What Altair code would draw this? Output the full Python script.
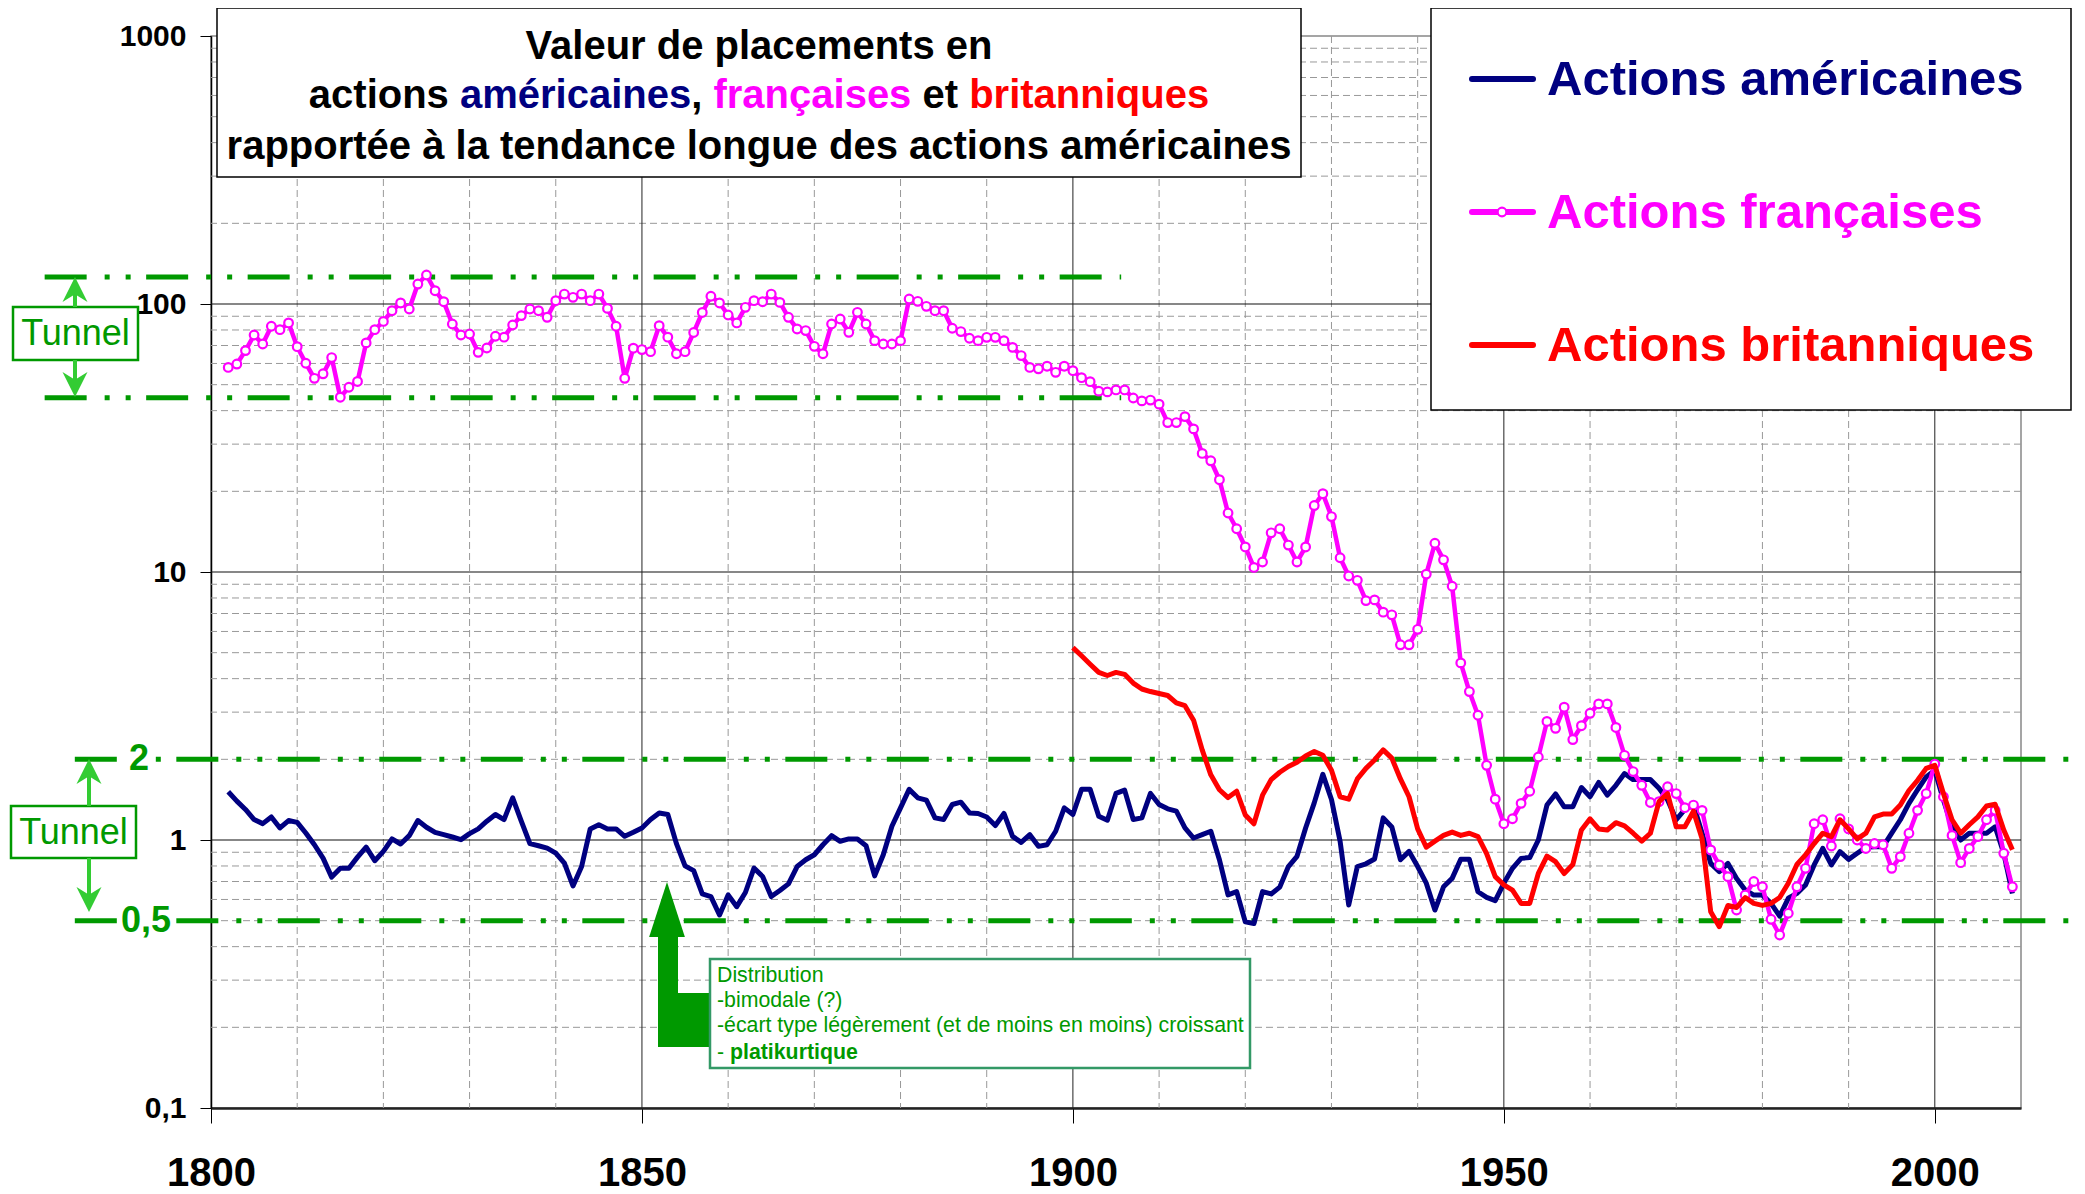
import altair as alt
import pandas as pd

FONT = "Liberation Sans"

# ---------------- data ----------------
YEARS_US = list(range(1802, 2010))
US = [
    1.513, 1.396, 1.30, 1.192, 1.151, 1.219, 1.109, 1.182, 1.164, 1.062,
    0.960, 0.856, 0.727, 0.785, 0.785, 0.863, 0.941, 0.837, 0.907, 1.009,
    0.966, 1.038, 1.182, 1.116, 1.068, 1.047, 1.026, 1.003, 1.056, 1.100,
    1.175, 1.245, 1.192, 1.437, 1.175, 0.969, 0.952, 0.933, 0.894, 0.820,
    0.674, 0.796, 1.100, 1.141, 1.100, 1.100, 1.032, 1.068, 1.109, 1.192,
    1.262, 1.245, 0.969, 0.801, 0.769, 0.629, 0.615, 0.525, 0.624, 0.564,
    0.637, 0.785, 0.731, 0.615, 0.648, 0.686, 0.796, 0.844, 0.881, 0.960,
    1.038, 0.989, 1.009, 1.009, 0.952, 0.735, 0.881, 1.125, 1.318, 1.545,
    1.437, 1.409, 1.209, 1.192, 1.357, 1.384, 1.262, 1.256, 1.219, 1.132,
    1.256, 1.032, 0.980, 1.047, 0.947, 0.960, 1.078, 1.318, 1.245, 1.545,
    1.545, 1.227, 1.185, 1.492, 1.535, 1.192, 1.209, 1.492, 1.357, 1.307,
    1.281, 1.109, 1.017, 1.047, 1.078, 0.844, 0.624, 0.642, 0.495, 0.488,
    0.642, 0.629, 0.667, 0.796, 0.869, 1.109, 1.376, 1.758, 1.416, 0.989,
    0.572, 0.796, 0.815, 0.849, 1.209, 1.119, 0.844, 0.907, 0.796, 0.690,
    0.548, 0.669, 0.719, 0.847, 0.847, 0.641, 0.611, 0.594, 0.689, 0.784,
    0.854, 0.860, 1.000, 1.350, 1.485, 1.330, 1.330, 1.570, 1.450, 1.640,
    1.470, 1.600, 1.770, 1.680, 1.680, 1.680, 1.560, 1.410, 1.190, 1.300,
    1.350, 1.060, 0.818, 0.762, 0.818, 0.719, 0.651, 0.623, 0.623, 0.580,
    0.520, 0.606, 0.632, 0.679, 0.807, 0.931, 0.807, 0.905, 0.847, 0.892,
    0.939, 0.944, 0.944, 1.060, 1.190, 1.370, 1.540, 1.720, 1.820, 1.410,
    1.120, 1.000, 1.060, 1.060, 1.060, 1.120, 0.892, 0.632,
]

YEARS_FR = list(range(1802, 2010))
FR = [
    58.0, 59.7, 67.0, 76.6, 70.9, 82.6, 80.2, 85.0, 69.3, 60.1,
    52.8, 54.9, 63.1, 44.9, 48.9, 51.4, 71.6, 80.2, 86.1, 94.4,
    100.9, 95.8, 118.7, 128.3, 112.1, 102.0, 84.2, 76.6, 77.3, 66.0,
    68.5, 75.8, 75.2, 83.5, 90.5, 95.8, 94.4, 89.2, 102.9, 108.9,
    105.9, 108.9, 102.9, 108.9, 96.3, 82.6, 52.8, 68.4, 67.6, 66.4,
    83.0, 75.2, 65.2, 66.4, 78.3, 93.0, 106.9, 100.9, 91.0, 85.0,
    97.2, 102.9, 102.0, 108.9, 101.4, 89.2, 80.7, 79.6, 69.5, 65.2,
    84.2, 87.9, 78.4, 93.1, 84.2, 73.0, 70.9, 70.9, 73.0, 104.4,
    102.3, 98.0, 94.4, 94.4, 81.2, 78.9, 74.5, 73.0, 75.1, 75.1,
    73.0, 68.9, 64.2, 58.0, 57.3, 58.6, 55.6, 58.6, 56.4, 53.1,
    51.3, 47.3, 47.0, 47.8, 47.8, 44.6, 43.5, 43.8, 42.3, 36.1,
    36.1, 38.0, 34.2, 27.7, 26.0, 22.1, 16.6, 14.5, 12.4, 10.4,
    10.9, 14.0, 14.5, 12.6, 10.9, 12.4, 17.7, 19.6, 16.1, 11.3,
    9.66, 9.31, 7.82, 7.87, 7.08, 6.92, 5.35, 5.35, 6.11, 9.82,
    12.8, 11.1, 8.85, 4.58, 3.58, 2.92, 1.90, 1.42, 1.15, 1.20,
    1.37, 1.52, 2.04, 2.77, 2.61, 3.13, 2.37, 2.67, 2.97, 3.22,
    3.22, 2.63, 2.07, 1.80, 1.60, 1.38, 1.39, 1.58, 1.49, 1.32,
    1.35, 1.29, 0.918, 0.807, 0.730, 0.548, 0.623, 0.700, 0.669, 0.506,
    0.442, 0.533, 0.669, 0.784, 1.15, 1.19, 0.95, 1.20, 1.10, 1.00,
    0.93, 0.97, 0.96, 0.784, 0.867, 1.06, 1.29, 1.49, 1.92, 1.45,
    1.04, 0.823, 0.93, 1.03, 1.19, 1.29, 0.892, 0.669,
]

YEARS_UK = list(range(1900, 2010))
UK = [
    5.22, 4.87, 4.53, 4.22, 4.11, 4.22, 4.15, 3.85, 3.66, 3.58,
    3.52, 3.46, 3.25, 3.17, 2.80, 2.17, 1.75, 1.54, 1.44, 1.52,
    1.24, 1.15, 1.47, 1.68, 1.79, 1.88, 1.95, 2.06, 2.14, 2.07,
    1.82, 1.45, 1.42, 1.69, 1.85, 1.99, 2.17, 2.02, 1.69, 1.45,
    1.10, 0.94, 0.99, 1.04, 1.07, 1.04, 1.06, 1.03, 0.89, 0.73,
    0.68, 0.65, 0.58, 0.58, 0.75, 0.87, 0.83, 0.75, 0.81, 1.09,
    1.20, 1.10, 1.09, 1.16, 1.13, 1.06, 0.99, 1.06, 1.39, 1.49,
    1.12, 1.12, 1.28, 1.01, 0.54, 0.475, 0.57, 0.56, 0.61, 0.58,
    0.57, 0.58, 0.61, 0.69, 0.81, 0.88, 0.97, 1.06, 1.03, 1.19,
    1.10, 1.01, 1.06, 1.22, 1.25, 1.25, 1.35, 1.53, 1.67, 1.85,
    1.90, 1.49, 1.19, 1.06, 1.14, 1.22, 1.34, 1.36, 1.09, 0.92,
]

X_TICKS = [1800, 1850, 1900, 1950, 2000]
Y_TICKS = [0.1, 1, 10, 100, 1000]
X_MINOR = [y for y in range(1810, 2010, 10) if y % 50]
X_MAJOR = [1850, 1900, 1950, 2000]
Y_MINOR = [round(d * m, 4) for d in (0.1, 1, 10, 100) for m in range(2, 10)]
Y_MAJOR = [1, 10, 100]
TUNNEL_HIGH = [126, 44.7]
TUNNEL_LOW = [2, 0.5]

NAVY, MAGENTA, RED = "#000080", "#FF00FF", "#FF0000"
GREEN, LIGHT_GREEN = "#009900", "#33CC33"

W, H = 1810, 1072
xs = alt.Scale(domain=[1800, 2010], nice=False, zero=False)
ys = alt.Scale(type="log", domain=[0.1, 1000], nice=False)

xaxis = alt.Axis(values=X_TICKS, format="d", grid=False, title=None,
                 labelFont=FONT, labelFontSize=40, labelFontWeight="bold",
                 labelColor="black", tickSize=15, tickColor="black",
                 labelBaseline="alphabetic", labelPadding=62,
                 domainColor="#222222", domainWidth=2.5,
                 labelFlush=False, labelOverlap=False)
yaxis = alt.Axis(values=Y_TICKS, grid=False, title=None,
                 labelExpr="datum.value < 1 ? '0,1' : format(datum.value, 'd')",
                 labelFont=FONT, labelFontSize=30, labelFontWeight="bold",
                 labelColor="black", tickSize=11, tickColor="black",
                 labelPadding=14, domainColor="black", domainWidth=1.5,
                 labelOverlap=False)


def X(f):
    return alt.X(f, type="quantitative", scale=xs, axis=xaxis)


def Y(f):
    return alt.Y(f, type="quantitative", scale=ys, axis=yaxis)


ONE = pd.DataFrame({"k": [0]})


def txt(s, x, y, size, color, bold=False, align="center"):
    return alt.Chart(ONE).mark_text(
        text=s, font=FONT, fontSize=size,
        fontWeight="bold" if bold else "normal", color=color,
        align=align, baseline="middle").encode(x=alt.value(x), y=alt.value(y))


def box(x0, y0, x1, y1, stroke, sw, fill="white"):
    return alt.Chart(ONE).mark_rect(fill=fill, stroke=stroke, strokeWidth=sw).encode(
        x=alt.value(x0), x2=alt.value(x1), y=alt.value(y0), y2=alt.value(y1))


def seg(x0, y0, x1, y1, color, w, cap="butt"):
    return alt.Chart(ONE).mark_rule(color=color, strokeWidth=w, strokeCap=cap).encode(
        x=alt.value(x0), x2=alt.value(x1), y=alt.value(y0), y2=alt.value(y1))


ARROW = "M0,-1 L0.8,0.6 L0,0.1 L-0.8,0.6 Z"
TRI = "M0,-1 L0.65,1 L-0.65,1 Z"


def head(x, y, size, color, angle=0, shape=ARROW):
    return alt.Chart(ONE).mark_point(shape=shape, filled=True, size=size, color=color,
                                     opacity=1, angle=angle, strokeWidth=0).encode(
        x=alt.value(x), y=alt.value(y))


layers = []

# ---------------- grid ----------------
layers.append(alt.Chart(pd.DataFrame({"v": Y_MINOR})).mark_rule(
    color="#999999", strokeWidth=1, strokeDash=[7, 4]).encode(y=Y("v")))
layers.append(alt.Chart(pd.DataFrame({"v": X_MINOR})).mark_rule(
    color="#999999", strokeWidth=1, strokeDash=[7, 4]).encode(x=X("v")))
layers.append(alt.Chart(pd.DataFrame({"v": Y_MAJOR})).mark_rule(
    color="#111111", strokeWidth=1.2).encode(y=Y("v")))
layers.append(alt.Chart(pd.DataFrame({"v": X_MAJOR})).mark_rule(
    color="#222222", strokeWidth=1).encode(x=X("v")))

# ---------------- tunnels ----------------
DASH = [42, 18, 5, 16, 5, 15.5]
layers.append(alt.Chart(pd.DataFrame({"v": TUNNEL_HIGH, "a": [1780.7] * 2, "b": [1905.6] * 2}))
              .mark_rule(color=GREEN, strokeWidth=5, strokeDash=DASH)
              .encode(x=X("a"), x2="b:Q", y=Y("v")))
layers.append(alt.Chart(pd.DataFrame({"v": TUNNEL_LOW, "a": [1784.2] * 2, "b": [2018.0] * 2}))
              .mark_rule(color=GREEN, strokeWidth=5, strokeDash=DASH)
              .encode(x=X("a"), x2="b:Q", y=Y("v")))

# labels on low tunnel lines
for val, lab, cx, a, b in [(2, "2", -72, -84, -61), (0.5, "0,5", -65, -93, -36)]:
    d = pd.DataFrame({"v": [val]})
    layers.append(alt.Chart(d).mark_rule(color="white", strokeWidth=14).encode(
        x=alt.value(a), x2=alt.value(b), y=Y("v")))
    layers.append(alt.Chart(d).mark_text(text=lab, font=FONT, fontSize=36, fontWeight="bold",
                                          color=GREEN, align="center", baseline="middle")
                  .encode(x=alt.value(cx), y=Y("v")))

# tunnel boxes + arrows
layers += [
    box(-198, 271, -73, 324, GREEN, 2.5),
    txt("Tunnel", -135.5, 298, 36, GREEN),
    seg(-136, 271, -136, 252, LIGHT_GREEN, 4),
    head(-136, 256.6, 977, LIGHT_GREEN),
    seg(-136, 324, -136, 352, LIGHT_GREEN, 4),
    head(-136, 345.4, 977, LIGHT_GREEN, angle=180),
    box(-200, 770, -75, 822, GREEN, 2.5),
    txt("Tunnel", -137.5, 797, 36, GREEN),
    seg(-122, 770, -122, 732, LIGHT_GREEN, 4),
    head(-122, 738.6, 977, LIGHT_GREEN),
    seg(-122, 822, -122, 866, LIGHT_GREEN, 4),
    head(-122, 860.4, 977, LIGHT_GREEN, angle=180),
]

# ---------------- series ----------------
df_us = pd.DataFrame({"year": YEARS_US, "value": US})
df_fr = pd.DataFrame({"year": YEARS_FR, "value": FR})
df_uk = pd.DataFrame({"year": YEARS_UK, "value": UK})

layers.append(alt.Chart(df_us).mark_line(color=NAVY, strokeWidth=5, strokeJoin="round")
              .encode(x=X("year"), y=Y("value")))
layers.append(alt.Chart(df_fr).mark_line(color=MAGENTA, strokeWidth=4.5, strokeJoin="round")
              .encode(x=X("year"), y=Y("value")))
layers.append(alt.Chart(df_fr).mark_point(shape="circle", filled=True, fill="white",
                                          stroke=MAGENTA, strokeWidth=2.2, size=75, opacity=1)
              .encode(x=X("year"), y=Y("value")))
layers.append(alt.Chart(df_uk).mark_line(color=RED, strokeWidth=5, strokeJoin="round")
              .encode(x=X("year"), y=Y("value")))

# ---------------- annotation (distribution) ----------------
ANN_FS = 21.3
layers += [
    box(447, 901, 467, 1011, GREEN, 0, fill=GREEN),
    box(447, 957, 501, 1011, GREEN, 0, fill=GREEN),
    head(456, 873.5, 3025, GREEN, shape=TRI),
    box(499, 923, 1039, 1032, "#339966", 2.5),
    txt("Distribution", 506, 940, ANN_FS, GREEN, align="left"),
    txt("-bimodale (?)", 506, 965, ANN_FS, GREEN, align="left"),
    txt("-écart type légèrement (et de moins en moins) croissant", 506, 990, ANN_FS, GREEN, align="left"),
    txt("-", 506, 1017, ANN_FS, GREEN, align="left"),
    txt("platikurtique", 519, 1017, ANN_FS, GREEN, bold=True, align="left"),
]

# ---------------- title box ----------------
AB = {" ": 278, ",": 278, "a": 556, "c": 556, "e": 556, "é": 556, "ç": 556, "i": 278,
      "m": 889, "n": 611, "o": 611, "r": 389, "s": 556, "t": 333, "f": 333, "b": 611,
      "q": 611, "u": 611}
TFS = 40
CX = 548
segments = [("actions ", "black"), ("américaines", NAVY), (", ", "black"),
            ("françaises", MAGENTA), (" et ", "black"), ("britanniques", RED)]
widths = [sum(AB[c] for c in s) * TFS / 1000 for s, _ in segments]
pos = CX - sum(widths) / 2
layers += [box(6, -28, 1090, 141, "black", 1.5),
           txt("Valeur de placements en", CX, 11, TFS, "black", bold=True)]
for (s, col), w in zip(segments, widths):
    layers.append(txt(s.strip(), pos + (AB[" "] * TFS / 1000 if s.startswith(" ") else 0),
                      60, TFS, col, bold=True, align="left"))
    pos += w
layers.append(txt("rapportée à la tendance longue des actions américaines", CX, 111, TFS,
                  "black", bold=True))

# ---------------- legend ----------------
LFS = 49
layers += [
    box(1220, -28, 1860, 374, "black", 1.5),
    seg(1261, 43, 1322, 43, NAVY, 6, cap="round"),
    seg(1261, 176, 1322, 176, MAGENTA, 6, cap="round"),
    alt.Chart(ONE).mark_point(shape="circle", filled=True, fill="white", stroke=MAGENTA,
                              strokeWidth=2.2, size=75, opacity=1).encode(
        x=alt.value(1291), y=alt.value(176)),
    seg(1261, 309, 1322, 309, RED, 6, cap="round"),
    txt("Actions américaines", 1336, 44, LFS, NAVY, bold=True, align="left"),
    txt("Actions françaises", 1336, 177, LFS, MAGENTA, bold=True, align="left"),
    txt("Actions britanniques", 1336, 310, LFS, RED, bold=True, align="left"),
]

chart = alt.layer(*layers).properties(
    width=W, height=H,
    autosize=alt.AutoSizeParams(type="none"),
    padding={"left": 203, "top": 28, "right": 56, "bottom": 86},
).configure_view(stroke="#888888", strokeWidth=1.5)

chart.save("out.html", embed_options={"renderer": "svg", "actions": False})
